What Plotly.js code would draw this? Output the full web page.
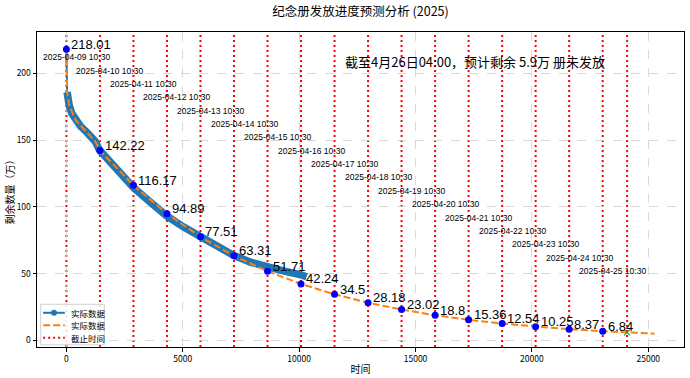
<!DOCTYPE html>
<html>
<head>
<meta charset="utf-8">
<script src="https://cdn.plot.ly/plotly-3.0.1.min.js"></script>
<style>
html,body{margin:0;padding:0;background:#fff;}
#chart{width:690px;height:378px;}
</style>
</head>
<body>
<div id="chart"></div>
<script>
// ---------- data ----------
const dateLabels = [
  "2025-04-09 10:30","2025-04-10 10:30","2025-04-11 10:30","2025-04-12 10:30",
  "2025-04-13 10:30","2025-04-14 10:30","2025-04-15 10:30","2025-04-16 10:30",
  "2025-04-17 10:30","2025-04-18 10:30","2025-04-19 10:30","2025-04-20 10:30",
  "2025-04-21 10:30","2025-04-22 10:30","2025-04-23 10:30","2025-04-24 10:30",
  "2025-04-25 10:30"
];
const finalCutoff = "2025-04-26 04:00";
const finalRemain = 5.9;
// predicted remaining (万) at each daily 10:30 point
const dailyValues = [218.01,142.22,116.17,94.89,77.51,63.31,51.71,42.24,34.5,28.18,23.02,18.8,15.36,12.54,10.25,8.37,6.84];

// actual data (minutes since start, 万)
const actualX = [0, 30, 60, 120, 230, 400, 600, 870, 1090, 1240, 1420, 2090, 2880, 3590, 4320, 5020, 5740, 6450, 7170, 7880, 8600, 9310, 10030, 10320];
const actualY = [218.01, 186, 181, 176, 170, 165, 160.5, 156, 152.5, 149, 142.5, 130, 114.5, 103.7, 93, 85, 78, 70, 63.8, 58.7, 55, 52, 49.3, 47.6];

const predEarlyX = [0, 30, 120, 400, 870, 1240];
const predEarlyY = [218.01, 186, 176, 165, 156, 149];
const predEndX = 25270;
const predEndY = 5.0;

const titleText = "纪念册发放进度预测分析 (2025)";
const noteText = "截至4月26日04:00，预计剩余 5.9万 册未发放";
const xTitle = "时间";
const yTitle = "剩余数量（万）";
const legendNames = ["实际数据", "实际数据", "截止时间"];

// ---------- derived ----------
function toMin(s){ return Date.parse(s.replace(' ','T')+':00') ; }
const t0 = toMin(dateLabels[0]);
const dailyX = dateLabels.map(s => (toMin(s)-t0)/60000);
const finalX = (toMin(finalCutoff)-t0)/60000;
const cutoffX = dailyX.concat([finalX]);

const predX = predEarlyX.concat(dailyX.slice(1), [predEndX]);
const predY = predEarlyY.concat(dailyValues.slice(1), [predEndY]);

const FONT = '"Noto Sans CJK SC", "Noto Sans", sans-serif';
const NUMFONT = '"Liberation Sans", Arial, sans-serif';
const BLUE = '#1f77b4', ORANGE = '#ff7f0e';
const RED_DASH = '2px,3px', ORANGE_DASH = '7px,3px';

const traces = [
  {x: actualX.slice(0,2), y: actualY.slice(0,2), mode:'lines', line:{color:BLUE, width:2}, showlegend:false, hoverinfo:'skip'},
  {x: actualX.slice(1), y: actualY.slice(1), mode:'lines', line:{color:BLUE, width:7.5}, showlegend:false, hoverinfo:'skip'},
  {x: predX, y: predY, mode:'lines', line:{color:ORANGE, width:2, dash:ORANGE_DASH}, showlegend:false},
  {x: dailyX, y: dailyValues, mode:'markers', marker:{color:'blue', size:7}, showlegend:false},
  {x:[finalX], y:[finalRemain], mode:'markers', marker:{color:'#2ca02c', size:6, symbol:'x-thin', line:{color:'#2ca02c', width:1.2}}, showlegend:false}
];

const shapes = cutoffX.map(x => ({type:'line', xref:'x', yref:'paper', x0:x, x1:x, y0:0, y1:1,
  line:{color:'red', width:2, dash:RED_DASH}, layer:'between'}));

// manual legend (matplotlib-like compact box)
const lg = {x0:0.0057, x1:0.104, y0:0.007, y1:0.1356, rows:[0.1086, 0.0689, 0.0292], lx0:0.0095, lx1:0.043, tx:0.049};
shapes.push({type:'rect', xref:'paper', yref:'paper', x0:lg.x0, x1:lg.x1, y0:lg.y0, y1:lg.y1,
  fillcolor:'rgba(255,255,255,0.85)', line:{color:'#d0d0d0', width:1}, layer:'above'});
const lgStyles = [
  {color:BLUE, width:2, dash:'solid'},
  {color:ORANGE, width:2, dash:ORANGE_DASH},
  {color:'red', width:2, dash:RED_DASH}
];
lgStyles.forEach((st,i) => {
  shapes.push({type:'line', xref:'paper', yref:'paper', x0:lg.lx0, x1:lg.lx1, y0:lg.rows[i], y1:lg.rows[i],
    line:st, layer:'above'});
});
shapes.push({type:'circle', xref:'paper', yref:'paper', xsizemode:'pixel', ysizemode:'pixel',
  xanchor:(lg.lx0+lg.lx1)/2, yanchor:lg.rows[0], x0:-3, x1:3, y0:-3, y1:3,
  fillcolor:BLUE, line:{color:BLUE, width:0}, layer:'above'});

const annotations = [];
legendNames.forEach((n,i) => {
  annotations.push({x:lg.tx, y:lg.rows[i], xref:'paper', yref:'paper', text:n, showarrow:false,
    xanchor:'left', yanchor:'middle', font:{family:FONT, size:8.5, color:'#000'}});
});
dateLabels.forEach((s,i) => {
  annotations.push({x: dailyX[i], y: 212 - 10*i, xref:'x', yref:'y', text:s, showarrow:false,
    xshift:10, font:{family:NUMFONT, size:8.5, color:'#000'}});
});
dailyValues.forEach((v,i) => {
  annotations.push({x: dailyX[i], y: v, xref:'x', yref:'y', text:String(v), showarrow:false,
    xanchor:'left', yanchor:'middle', xshift:3, yshift:5, font:{family:NUMFONT, size:13, color:'#000'}});
});
annotations.push({x:0.677, y:0.907, xref:'paper', yref:'paper', text:noteText, showarrow:false,
  xanchor:'center', yanchor:'middle', font:{family:FONT, size:13, color:'#000'}});

const axisCommon = {
  showline:true, mirror:true, linecolor:'#000', linewidth:1,
  ticks:'outside', ticklen:3.5, tickcolor:'#000', tickwidth:1,
  showgrid:true, gridcolor:'#cfcfcf', griddash:'dash', gridwidth:0.8,
  zeroline:false, tickfont:{family:FONT, size:8.5, color:'#000'}, tickformat:'d'
};

const layout = {
  width:690, height:378,
  margin:{l:37, r:6, t:32, b:31, pad:0},
  paper_bgcolor:'#fff', plot_bgcolor:'#fff',
  font:{family:FONT, color:'#000'},
  title:{text:titleText, x:0.5, xref:'paper', xanchor:'center', y:1-12/378, yanchor:'middle', yref:'container',
    font:{family:FONT, size:12.5, color:'#000'}},
  xaxis: Object.assign({}, axisCommon, {range:[-1264, 26534], tickvals:[0,5000,10000,15000,20000,25000],
    title:{text:xTitle, standoff:3, font:{family:FONT, size:10, color:'#000'}}}),
  yaxis: Object.assign({}, axisCommon, {range:[-5, 231], tickvals:[0,50,100,150,200],
    title:{text:yTitle, standoff:0, font:{family:FONT, size:10, color:'#000'}}}),
  shapes: shapes,
  annotations: annotations,
  showlegend:false
};

Plotly.newPlot('chart', traces, layout, {staticPlot:true, displayModeBar:false});
</script>
</body>
</html>
